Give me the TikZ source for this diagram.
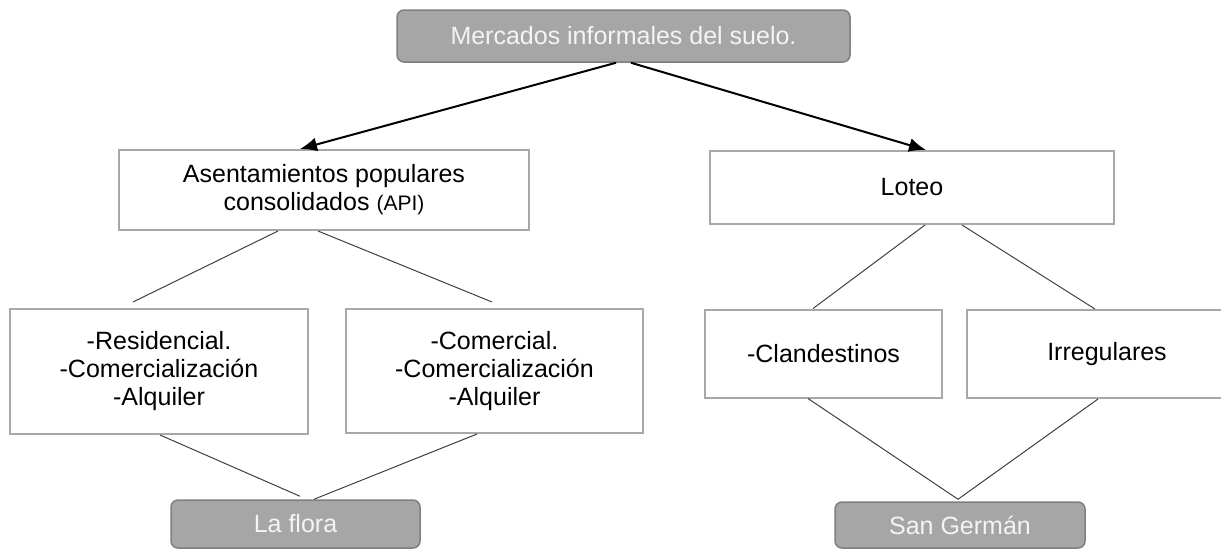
\documentclass[tikz,border=0pt]{standalone}
\usepackage{fontspec}
\setmainfont{Liberation Sans}
\usepackage{tikz}
\usetikzlibrary{positioning, arrows.meta}
\definecolor{rellenogris}{HTML}{A6A6A6}
\definecolor{bordegris}{HTML}{7F7F7F}
\definecolor{marcogris}{HTML}{A8A8A8}
\definecolor{lineagris}{HTML}{404040}
\definecolor{textoblanco}{HTML}{F4F4F4}

\begin{document}
\begin{tikzpicture}[x=1pt, y=-1pt, node distance=10pt, on grid,
  font=\fontsize{25}{28}\selectfont,
  caja/.style={draw=marcogris, line width=2pt, fill=white, inner sep=0pt, align=center},
  sitio/.style={draw=bordegris, fill=rellenogris, line width=1.5pt, rounded corners=7pt,
    text=textoblanco, inner sep=0pt, align=center},
  enlace/.style={draw=lineagris, line width=1pt},
  flecha/.style={draw=black, line width=2pt, -{Latex[length=17pt, width=14pt]}}]
  \useasboundingbox (0,0) rectangle (1221,550);

  \node[sitio, minimum width=453pt, minimum height=52pt] at (623.5,36) (M) {Mercados informales del suelo.};
  \node[caja, minimum width=410pt, minimum height=80pt, below left = 154pt and 299.5pt of M] (API) {Asentamientos populares\\consolidados {\fontsize{21}{28}\selectfont(API)}};
  \node[caja, minimum width=404pt, minimum height=73pt, below right = 151.5pt and 288.5pt of M] (L) {Loteo};
  \node[caja, minimum width=298pt, minimum height=125pt, below left = 181.5pt and 165pt of API] (R) {-Residencial.\\-Comercialización\\-Alquiler};
  \node[caja, minimum width=297pt, minimum height=124pt, below right = 181pt and 170.5pt of API] (C) {-Comercial.\\-Comercialización\\-Alquiler};
  \node[caja, minimum width=237pt, minimum height=88pt, below left = 166pt and 88.5pt of L] (CL) {-Clandestinos};
  \node[caja, minimum width=280pt, minimum height=88pt, below right = 166.5pt and 195pt of L] (I) {Irregulares};
  \node[sitio, minimum width=249pt, minimum height=48pt, below right = 152.5pt and 136.5pt of R] (LF) {La flora};
  \node[sitio, minimum width=250pt, minimum height=46pt, below right = 171.5pt and 136.5pt of CL] (SG) {San Germán};

  \draw[flecha] ([xshift=-7.5pt]M.south) -- ([xshift=-24pt]API.north);
  \draw[flecha] ([xshift=7.5pt]M.south) -- ([xshift=14pt]L.north);

  \draw[enlace] ([xshift=-46pt]API.south) -- ([xshift=-26pt, yshift=6pt]R.north);
  \draw[enlace] ([xshift=-6pt]API.south) -- ([xshift=-2.5pt, yshift=6pt]C.north);
  \draw[enlace] ([xshift=1pt]R.south) -- ([xshift=4.5pt, yshift=3pt]LF.north);
  \draw[enlace] ([xshift=-17.5pt]C.south) -- ([xshift=18.5pt]LF.north);

  \draw[enlace] ([xshift=13pt]L.south) -- ([xshift=-10.5pt]CL.north);
  \draw[enlace] ([xshift=50pt]L.south) -- ([xshift=-12pt]I.north);
  \draw[enlace] ([xshift=-15.5pt]CL.south) -- ([xshift=-2pt, yshift=2pt]SG.north);
  \draw[enlace] ([xshift=-9pt]I.south) -- ([xshift=-2pt, yshift=2pt]SG.north);
\end{tikzpicture}
\end{document}
